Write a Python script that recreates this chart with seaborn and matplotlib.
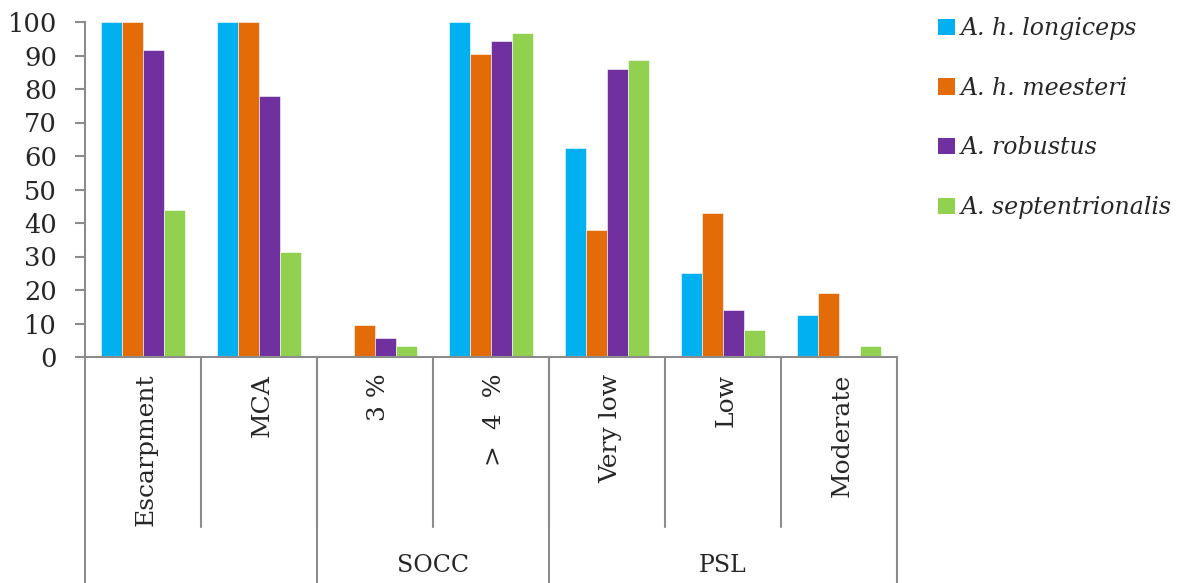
import pandas as pd
import seaborn as sns
import matplotlib.pyplot as plt
import matplotlib.transforms as mtransforms
from matplotlib.patches import Patch

# Data
categories = ['Escarpment', 'MCA', '3 %', '>  4  %', 'Very low', 'Low', 'Moderate']
groups = ['', 'SOCC', 'PSL']
group_sizes = [2, 2, 3]
species = ['A. h. longiceps', 'A. h. meesteri', 'A. robustus', 'A. septentrionalis']
longiceps = [100, 100, 0, 100, 62.5, 25, 12.5]
meesteri = [100, 100, 9.5, 90.5, 38.0, 42.9, 19.0]
robustus = [91.7, 77.8, 5.6, 94.4, 86.1, 13.9, 0]
septentrionalis = [43.8, 31.3, 3.4, 96.6, 88.6, 8.0, 3.4]
colors = ['#00B0F0', '#E36C09', '#7030A0', '#92D050']

df = pd.DataFrame({'category': categories,
                   species[0]: longiceps, species[1]: meesteri,
                   species[2]: robustus, species[3]: septentrionalis})
df = df.melt(id_vars='category', var_name='species', value_name='pct')

sns.set_style('white')
plt.rcParams['font.family'] = ['DejaVu Serif']

fig = plt.figure(figsize=(11.8, 5.83), dpi=100)
ax = fig.add_axes([85 / 1180, 1 - 357 / 583, (897 - 85) / 1180, 335 / 583])

sns.barplot(data=df, x='category', y='pct', hue='species', order=categories,
            hue_order=species, palette=colors, width=0.72, gap=0,
            edgecolor='white', linewidth=0.4, saturation=1, legend=False, ax=ax)

ax.set_ylim(0, 100)
ax.set_xlim(-0.5, len(categories) - 0.5)
ax.set_yticks(range(0, 101, 10))
ax.set_xlabel('')
ax.set_ylabel('')
ax.set_xticks([])
gray = '#8c8c8c'
for side in ['top', 'right']:
    ax.spines[side].set_visible(False)
for side in ['left', 'bottom']:
    ax.spines[side].set_color(gray)
    ax.spines[side].set_linewidth(1.5)
ax.tick_params(axis='y', left=True, length=7, width=1.5, color=gray,
               labelsize=18.5, pad=13)

# multi-level category axis
trans = mtransforms.blended_transform_factory(ax.transData, ax.transAxes)
y_cat = (357 - 527) / 335
y_bot = (357 - 583) / 335
for i, name in enumerate(categories):
    ax.text(i + 0.03, -0.05, name, rotation=90, ha='center', va='top',
            fontsize=18, transform=trans)
for i in range(1, len(categories)):
    ax.plot([i - 0.5, i - 0.5], [0, y_cat], color=gray, lw=1.5,
            transform=trans, clip_on=False)
start = 0
for g, n in zip(groups, group_sizes):
    ax.plot([start - 0.5, start - 0.5], [0, y_bot], color=gray, lw=1.5,
            transform=trans, clip_on=False)
    ax.text(start + (n - 1) / 2, (357 - 565) / 335, g, ha='center', va='center',
            fontsize=17, transform=trans)
    start += n
ax.plot([start - 0.5, start - 0.5], [0, y_bot], color=gray, lw=1.5,
        transform=trans, clip_on=False)

handles = [Patch(facecolor=c, edgecolor='none') for c in colors]
fig.legend(handles, species, loc='upper left', bbox_to_anchor=(917 / 1180, 1 + 4 / 583),
           frameon=False, handlelength=0.7, handleheight=0.7, handletextpad=0.25,
           labelspacing=1.55, prop={'style': 'italic', 'size': 17})

fig.savefig('out.png', dpi=100)
